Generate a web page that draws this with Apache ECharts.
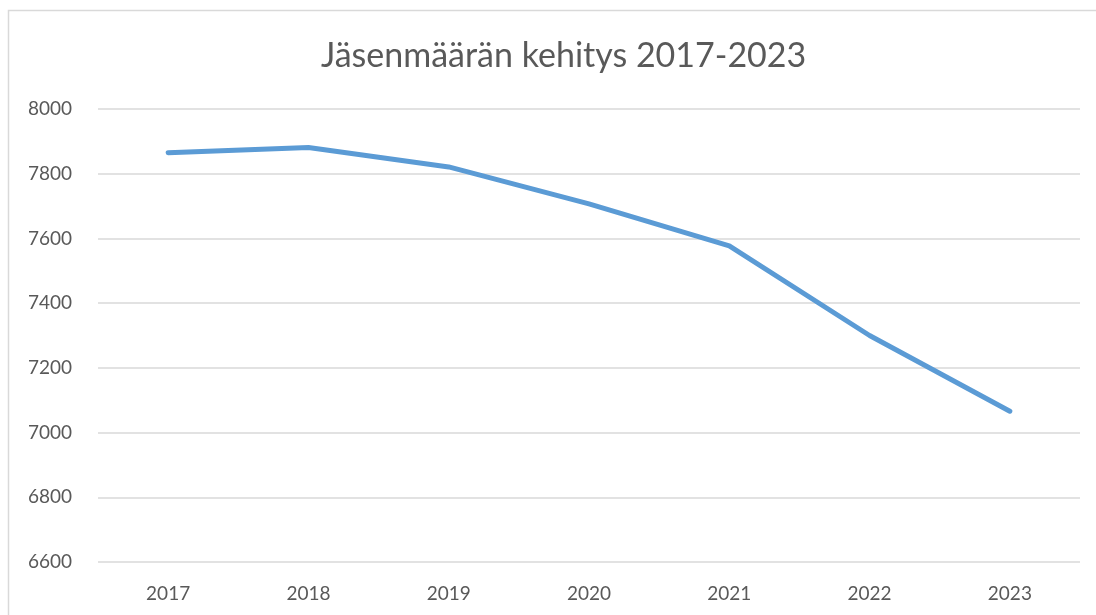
<!DOCTYPE html>
<html><head><meta charset="utf-8">
<script src="https://cdn.jsdelivr.net/npm/echarts@6/dist/echarts.min.js"></script>
<style>html,body{margin:0;padding:0;background:#fff;overflow:hidden}#c{width:1096px;height:615px}</style>
</head><body><div id="c"></div>
<script>
const title = 'Jäsenmäärän kehitys 2017-2023';
const years = ['2017','2018','2019','2020','2021','2022','2023'];
const members = [7865, 7881, 7821, 7707, 7577, 7300, 7066];
const yMin = 6600, yMax = 8000, yStep = 200;
const font = 'Lato, Open Sans, sans-serif';
const chart = echarts.init(document.getElementById('c'), null, {renderer:'canvas'});
chart.setOption({
  animation:false,
  backgroundColor:'#fff',
  graphic:[{type:'polyline', shape:{points:[[8.5,615],[8.5,10.5],[1096,10.5]]}, style:{fill:'none',stroke:'#d9d9d9',lineWidth:1.5}, silent:true}],
  title:{text:title, left:316, top:34, textStyle:{fontFamily:font, fontSize:34, fontWeight:'normal', color:'#595959'}},
  grid:{left:98, right:16, top:109, bottom:53},
  xAxis:{type:'category', data:years, boundaryGap:true,
    axisLine:{show:false}, axisTick:{show:false},
    axisLabel:{fontFamily:font, fontSize:19, color:'#595959', margin:22}},
  yAxis:{type:'value', min:yMin, max:yMax, interval:yStep,
    axisLine:{show:false}, axisTick:{show:false},
    axisLabel:{fontFamily:font, fontSize:19, color:'#595959', margin:26, formatter: v => String(v)},
    splitLine:{lineStyle:{color:'#d9d9d9', width:1.5}}},
  series:[{type:'line', data:members, showSymbol:false, symbol:'none',
    lineStyle:{color:'#5B9BD5', width:5, cap:'round', join:'round'}}]
});
</script></body></html>
